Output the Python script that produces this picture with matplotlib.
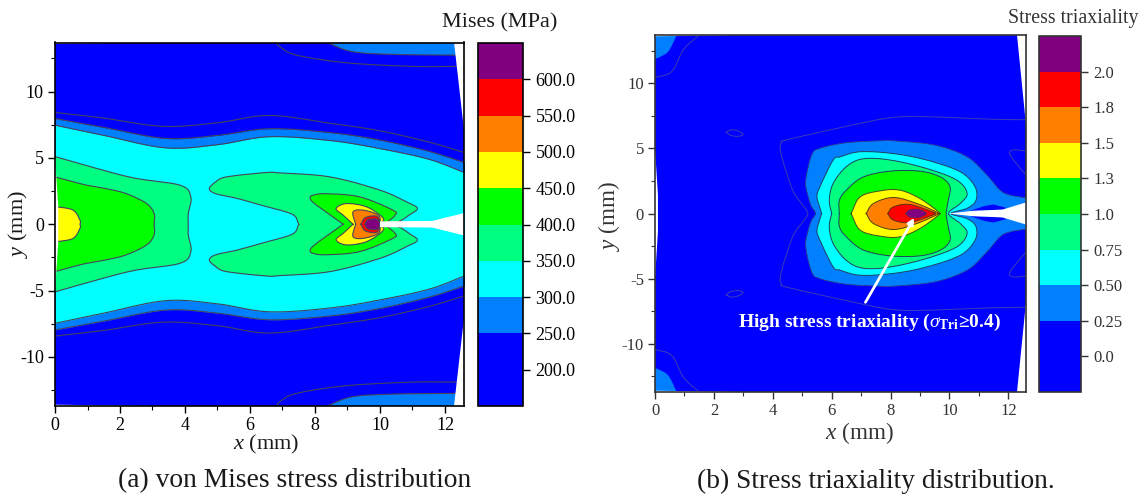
import numpy as np
import matplotlib
matplotlib.use("Agg")
import matplotlib.pyplot as plt
from matplotlib.cm import ScalarMappable
from matplotlib.colors import BoundaryNorm, ListedColormap
from matplotlib.ticker import MultipleLocator

plt.rcParams['font.family'] = ['Liberation Serif', 'DejaVu Serif']
plt.rcParams['axes.unicode_minus'] = False
plt.rcParams['mathtext.fontset'] = 'custom'
plt.rcParams['mathtext.rm'] = 'Liberation Serif'
plt.rcParams['mathtext.it'] = 'Liberation Serif:italic'
plt.rcParams['mathtext.bf'] = 'Liberation Serif:bold'

W, H = 1143, 495

band_colors = ['#0000ff', '#0080ff', '#00ffff', '#00ff80', '#00ff00',
               '#ffff00', '#ff8000', '#ff0000', '#800080']

# colour scales
mises_levels = [150, 250, 300, 350, 400, 450, 500, 550, 600, 650]
mises_ticks = [200, 250, 300, 350, 400, 450, 500, 550, 600]
mises_labels = ['200.0', '250.0', '300.0', '350.0', '400.0', '450.0', '500.0', '550.0', '600.0']
tri_levels = [-0.25, 0.25, 0.5, 0.75, 1.0, 1.25, 1.5, 1.75, 2.0, 2.25]
tri_ticks = [0.0, 0.25, 0.5, 0.75, 1.0, 1.25, 1.5, 1.75, 2.0]
tri_labels = ['0.0', '0.25', '0.50', '0.75', '1.0', '1.3', '1.5', '1.8', '2.0']

# Mises contours, upper half (x, y in mm), the lower half is the mirror image
m_line200_x = [0, 1.5, 3.33, 5.0, 6.6, 8.5, 10.0, 11.5, 12.6]
m_line200_y = [8.43, 8.0, 7.38, 7.65, 8.2, 7.6, 7.04, 6.2, 5.4]
m_250_x = [0, 1.5, 3.4, 5.0, 6.6, 8.5, 10.0, 11.5, 12.6]
m_250_y = [7.97, 7.3, 6.47, 6.7, 7.2, 6.9, 6.34, 5.5, 4.65]
m_300_x = [0, 1.5, 3.4, 5.0, 6.6, 8.5, 10.0, 11.5, 12.6]
m_300_y = [7.47, 6.7, 5.76, 6.0, 6.6, 6.3, 5.7, 4.9, 3.9]
m_350a_x = [0, 1.0, 2.4, 3.85, 4.18, 4.1, 4.1]
m_350a_y = [5.1, 4.4, 3.5, 2.94, 2.06, 0.8, 0]
m_350b_x = [7.5, 7.3, 6.4, 5.6, 4.95, 4.75, 4.95, 5.28, 6.5, 6.92, 8.46, 10.0, 10.82, 11.15, 10.9, 10.56, 10.0]
m_350b_y = [0, 0.75, 1.4, 1.95, 2.3, 2.69, 3.2, 3.57, 3.9, 3.87, 3.57, 2.57, 1.68, 1.2, 0.7, 0.2, 0]
m_400a_x = [0, 0.87, 1.6, 2.2, 2.82, 3.05, 3.05]
m_400a_y = [3.57, 3.0, 2.67, 2.3, 1.56, 0.8, 0]
m_400b_x = [8.87, 8.05, 7.85, 7.95, 8.36, 9.38, 10.4, 10.46, 10.2, 10.0]
m_400b_y = [0, 1.43, 1.95, 2.2, 2.3, 2.06, 1.06, 0.68, 0.15, 0]
m_450a_x = [0, 0.1, 0.56, 0.77, 0.77]
m_450a_y = [1.35, 1.3, 1.06, 0.3, 0]
m_450b_x = [9.17, 8.87, 8.65, 8.97, 9.6, 10.1, 10.0]
m_450b_y = [0, 0.68, 1.18, 1.56, 1.3, 0.45, 0]
m_500_x = [9.25, 9.17, 9.49, 9.95, 10.0]
m_500_y = [0, 0.93, 1.06, 0.68, 0]
m_550_x = [9.41, 9.55, 9.9, 10.0]
m_550_y = [0, 0.5, 0.6, 0]
m_600_x = [9.54, 9.62, 9.9, 10.0]
m_600_y = [0, 0.33, 0.38, 0]
m_corner250_x = [8.36, 9.17, 10.5, 12.3, 12.6]
m_corner250_y = [13.7, 13.0, 12.8, 12.75, 12.75]
m_corner200_x = [6.82, 6.92, 7.43, 8.97, 11.0, 12.34]
m_corner200_y = [13.7, 13.38, 12.75, 12.17, 11.9, 11.9]
m_crack_x = [10.0, 11.6, 12.6, 12.6, 11.6, 10.0]
m_crack_y = [0.22, 0.25, 0.85, -0.85, -0.25, -0.22]

# Triaxiality contours, upper half
t_line_x = [5.19, 5.0, 4.7, 4.4, 4.28, 4.25, 4.3, 4.55, 6.97, 8.1, 9.23, 11.5, 12.6]
t_line_y = [0, 0.7, 1.66, 3.6, 4.6, 5.1, 5.45, 5.7, 6.92, 7.38, 7.43, 7.23, 7.2]
t_right_x = [12.6, 12.06, 12.17, 12.6]
t_right_y = [2.95, 4.48, 4.87, 4.8]
t_dot_x = [2.42, 2.6, 2.85, 2.99, 2.8, 2.55, 2.42]
t_dot_y = [6.25, 6.42, 6.3, 6.05, 5.92, 6.02, 6.25]
t_025_x = [5.45, 5.3, 5.18, 5.12, 5.32, 5.6, 6.5, 7.65, 8.1, 9.5, 10.6, 11.27, 11.72, 12.06, 12.6]
t_025_y = [0, 0.6, 1.5, 2.56, 4.48, 5.0, 5.43, 5.58, 5.58, 5.25, 4.35, 2.95, 1.79, 1.41, 1.2]
t_050_x = [5.66, 5.58, 5.5, 5.6, 6.05, 6.29, 6.97, 8.1, 9.23, 10.37, 10.87, 10.9, 10.6, 10.05]
t_050_y = [0, 0.6, 1.3, 2.05, 4.1, 4.35, 4.74, 4.6, 4.1, 3.2, 2.05, 1.0, 0.4, 0]
t_075_x = [6.0, 5.92, 6.05, 6.5, 7.07, 8.0, 9.23, 10.25, 10.6, 10.37, 9.97]
t_075_y = [0, 1.02, 2.3, 3.6, 4.2, 4.1, 3.45, 2.56, 1.54, 0.77, 0]
t_100_x = [6.26, 6.26, 6.5, 7.07, 7.99, 9.0, 9.7, 10.02, 9.96, 9.89]
t_100_y = [0, 1.0, 1.8, 2.8, 3.25, 3.25, 2.8, 2.05, 1.02, 0]
t_130_x = [6.66, 6.97, 7.65, 8.32, 9.0, 9.63, 9.66]
t_130_y = [0, 1.28, 1.74, 1.79, 1.15, 0.13, 0]
t_150_x = [7.17, 7.42, 8.1, 8.89, 9.57, 9.6]
t_150_y = [0, 0.77, 1.23, 0.77, 0.1, 0]
t_180_x = [7.9, 8.1, 8.66, 9.45, 9.5]
t_180_y = [0, 0.51, 0.69, 0.1, 0]
t_200_x = [8.52, 8.65, 8.95, 9.21]
t_200_y = [0, 0.26, 0.31, 0]
t_lens_x = [10.7, 11.2, 11.5, 11.95, 11.8]
t_lens_y = [0.2, 0.58, 0.69, 0.42, 0.3]
t_corner025_x = [0.72, 0.45, 0.2, 0]
t_corner025_y = [13.7, 12.5, 12.1, 11.9]
t_corner_line_x = [0, 0.57, 0.96, 1.42, 1.5]
t_corner_line_y = [10.43, 10.9, 12.56, 13.54, 13.7]
t_crack_x = [9.97, 10.76, 11.8, 12.6, 12.6, 11.8, 10.76, 9.97]
t_crack_y = [0, 0.2, 0.3, 0.85, -0.85, -0.3, -0.2, 0]


def smooth(x, y, n=12):
    # Catmull-Rom through the read points, only to round the drawn curve
    p = np.column_stack([x, y]).astype(float)
    p = np.vstack([2 * p[0] - p[1], p, 2 * p[-1] - p[-2]])
    out = []
    for i in range(1, len(p) - 2):
        t = np.linspace(0, 1, n, endpoint=False)[:, None]
        a, b, c, d = p[i - 1], p[i], p[i + 1], p[i + 2]
        out.append(0.5 * (2 * b + (c - a) * t + (2 * a - 5 * b + 4 * c - d) * t ** 2
                          + (3 * b - a - 3 * c + d) * t ** 3))
    out.append(p[-2][None, :])
    out = np.vstack(out)
    return out[:, 0], out[:, 1]


def mirror(x, y):
    x, y = np.array(x, float), np.array(y, float)
    if y[-1] == 0:
        return np.r_[x, x[-2::-1]], np.r_[y, -y[-2::-1]]
    return np.r_[x[:0:-1], x], np.r_[-y[:0:-1], y]


def region(ax, x, y, color=None, line='#44445a', lw=0.8):
    sx, sy = smooth(*mirror(x, y))
    if color:
        ax.fill(sx, sy, color=color, lw=0)
    ax.plot(sx, sy, color=line, lw=lw)


def band(ax, x, y, color=None, line='#44445a', lw=0.8):
    sx, sy = smooth(x, y)
    if color:
        ax.fill_between(sx, -sy, sy, color=color, lw=0)
    ax.plot(sx, sy, color=line, lw=lw)
    ax.plot(sx, -sy, color=line, lw=lw)


def corner(ax, x, y, cx, color=None, line='#44445a', lw=0.8):
    sx, sy = smooth(x, y)
    for sign in (1, -1):
        if color:
            ax.fill(np.r_[sx, cx], sign * np.r_[sy, 13.7], color=color, lw=0)
        ax.plot(sx, sign * sy, color=line, lw=lw)


def slivers(ax, wedge_x, wedge_y, crack_x, crack_y):
    white = dict(color='white', lw=0, zorder=4)
    for sign in (1, -1):
        ax.fill([wedge_x, 12.6, 12.6], [sign * 13.7, sign * 13.7, sign * wedge_y], **white)
        ax.fill([0, 3.0, 0], [sign * 13.6, sign * 13.7, sign * 13.7], **white)
    ax.fill([0, 0.1, 0.1, 0], [5.0, 1.4, -1.4, -5.0], **white)
    ax.fill(crack_x, crack_y, **white)


def make_axes(l, t, r, b, color='black', size=13):
    ax = fig.add_axes([l / W, 1 - b / H, (r - l) / W, (b - t) / H], facecolor='#0000ff')
    ax.set_xlim(0, 12.6)
    ax.set_ylim(-13.7, 13.7)
    ax.xaxis.set_major_locator(MultipleLocator(2))
    ax.xaxis.set_minor_locator(MultipleLocator(1))
    ax.yaxis.set_major_locator(MultipleLocator(5))
    ax.yaxis.set_minor_locator(MultipleLocator(2.5))
    ax.tick_params(which='major', length=5, width=1, pad=3, labelsize=size, colors=color)
    ax.tick_params(which='minor', length=3, width=0.8, colors=color)
    for s in ax.spines.values():
        s.set_linewidth(1.2)
        s.set_color(color)
        s.set_zorder(6)
    return ax


def make_bar(l, t, r, b, levels, ticks, labels, color='black', size=13):
    cax = fig.add_axes([l / W, 1 - b / H, (r - l) / W, (b - t) / H])
    norm = BoundaryNorm(levels, len(band_colors))
    cb = fig.colorbar(ScalarMappable(norm=norm, cmap=ListedColormap(band_colors)), cax=cax,
                      ticks=ticks, spacing='proportional')
    cb.ax.minorticks_off()
    cb.set_ticklabels(labels)
    cb.ax.tick_params(length=5, width=1, labelsize=size, pad=4, colors=color)
    cb.outline.set_linewidth(1.2)
    cb.outline.set_edgecolor(color)


fig = plt.figure(figsize=(W / 100, H / 100), dpi=100)

# (a) von Mises
ax1 = make_axes(55, 42.5, 464.5, 406)
band(ax1, m_line200_x, m_line200_y)
band(ax1, m_250_x, m_250_y, band_colors[1])
band(ax1, m_300_x, m_300_y, band_colors[2])
corner(ax1, m_corner200_x, m_corner200_y, 12.6)
corner(ax1, m_corner250_x, m_corner250_y, 12.6, band_colors[1])
region(ax1, m_350a_x, m_350a_y, band_colors[3])
region(ax1, m_350b_x, m_350b_y, band_colors[3])
region(ax1, m_400a_x, m_400a_y, band_colors[4])
region(ax1, m_400b_x, m_400b_y, band_colors[4])
region(ax1, m_450a_x, m_450a_y, band_colors[5])
region(ax1, m_450b_x, m_450b_y, band_colors[5])
region(ax1, m_500_x, m_500_y, band_colors[6])
region(ax1, m_550_x, m_550_y, band_colors[7])
region(ax1, m_600_x, m_600_y, band_colors[8])
slivers(ax1, 12.28, 7.1, m_crack_x, m_crack_y)

# (b) triaxiality
ax2 = make_axes(655, 35, 1026, 392, color='#333333', size=12)
thin = dict(line='#3c3cb4', lw=0.7)
region(ax2, t_line_x, t_line_y, **thin)
for sign in (1, -1):
    ax2.plot(*smooth(t_right_x, sign * np.array(t_right_y)), color=thin['line'], lw=0.7)
    ax2.plot(*smooth(t_dot_x, sign * np.array(t_dot_y)), color=thin['line'], lw=0.7)
corner(ax2, t_corner_line_x, t_corner_line_y, 0, **thin)
corner(ax2, t_corner025_x, t_corner025_y, 0, band_colors[1], line=band_colors[1])
region(ax2, t_025_x, t_025_y, band_colors[1], line='#303c90', lw=0.6)
for sign in (1, -1):
    ax2.fill(t_lens_x, sign * np.array(t_lens_y), color=band_colors[0], lw=0)
region(ax2, t_050_x, t_050_y, band_colors[2], line='#204060', lw=0.7)
region(ax2, t_075_x, t_075_y, band_colors[3], line='#204060', lw=0.7)
region(ax2, t_100_x, t_100_y, band_colors[4], line='#204060', lw=0.7)
region(ax2, t_130_x, t_130_y, band_colors[5], line='#405020', lw=0.7)
region(ax2, t_150_x, t_150_y, band_colors[6], line='#504010', lw=0.7)
region(ax2, t_180_x, t_180_y, band_colors[7], line='#603010', lw=0.7)
region(ax2, t_200_x, t_200_y, band_colors[8], line='#602060', lw=0.7)
slivers(ax2, 12.3, 6.8, t_crack_x, t_crack_y)

ax2.annotate('', xy=(8.85, -0.15), xytext=(7.1, -7.0),
             arrowprops=dict(arrowstyle='-|>', color='white', lw=2, mutation_scale=9), zorder=5)
ax2.text(7.3, -8.36, 'High stress triaxiality ($\\mathit{\\sigma}_{\\mathbf{Tri}}$≥0.4)',
         color='white', fontweight='bold', fontsize=14, ha='center', va='center', zorder=5)

make_bar(477.5, 43, 523, 406, mises_levels, mises_ticks, mises_labels)
make_bar(1039, 36, 1081, 392, tri_levels, tri_ticks, tri_labels, color='#333333', size=12)


def px_text(x, y, s, **kw):
    fig.text(x / W, 1 - y / H, s, ha='center', va='center', **kw)


px_text(499.5, 23, 'Mises (MPa)', fontsize=16, color='#1a1a1a')
px_text(1073.5, 18, 'Stress triaxiality', fontsize=14.3, color='#333333')
px_text(266, 444, '$\\mathit{x}$ (mm)', fontsize=16, color='#1a1a1a')
px_text(859, 433, '$\\mathit{x}$ (mm)', fontsize=16.7, color='#333333')
px_text(18, 224, '$\\mathit{y}$ (mm)', fontsize=16, color='#1a1a1a', rotation=90)
px_text(609, 216, '$\\mathit{y}$ (mm)', fontsize=16.7, color='#333333', rotation=90)
px_text(295, 481, '(a) von Mises stress distribution', fontsize=19.8, color='#1a1a1a')
px_text(876, 481, '(b) Stress triaxiality distribution.', fontsize=19.7, color='#1a1a1a')

fig.savefig('out.png', dpi=100)
